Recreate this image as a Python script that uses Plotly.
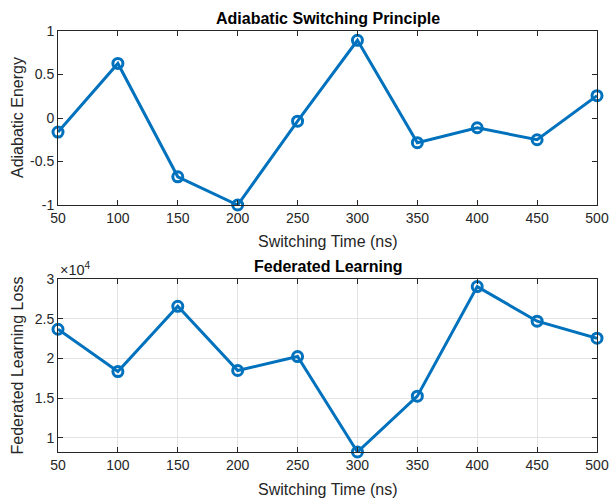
import plotly.graph_objects as go

# Switching times shared by both panels
switching_time = [50, 100, 150, 200, 250, 300, 350, 400, 450, 500]

# Panel 1: adiabatic energy
adiabatic_energy = [-0.162, 0.627, -0.676, -1.0, -0.036, 0.893, -0.284, -0.112, -0.250, 0.257]

# Panel 2: federated learning loss
fl_loss = [23670, 18340, 26560, 18470, 20230, 8200, 15240, 29040, 24680, 22540]

energy_ticks = [-1, -0.5, 0, 0.5, 1]
energy_ticktext = ["-1", "-0.5", "0", "0.5", "1"]
loss_ticks = [10000, 15000, 20000, 25000, 30000]
loss_ticktext = ["1", "1.5", "2", "2.5", "3"]
time_ticks = switching_time

W, H = 609, 503
BLUE = "#0072BD"
INK = "#262626"
FONT = "Liberation Sans, Arial, sans-serif"

# axes boxes in pixels (left, right, top, bottom)
ax1 = (58, 597, 31, 205)
ax2 = (58, 597, 279, 452)


def fx(x):
    return x / W


def fy(y):
    return 1 - y / H


def xd(box):
    return [fx(box[0]), fx(box[1])]


def yd(box):
    return [fy(box[3]), fy(box[2])]


fig = go.Figure()

line_style = dict(color=BLUE, width=3)
marker_style = dict(symbol="circle-open", size=10, color=BLUE, line=dict(width=3, color=BLUE))

fig.add_trace(go.Scatter(x=switching_time, y=adiabatic_energy, mode="lines+markers",
                         line=line_style, marker=marker_style, xaxis="x", yaxis="y",
                         cliponaxis=False, showlegend=False))
fig.add_trace(go.Scatter(x=switching_time, y=fl_loss, mode="lines+markers",
                         line=line_style, marker=marker_style, xaxis="x2", yaxis="y2",
                         cliponaxis=False, showlegend=False))

# fixed axes boxes: no automatic margin growth from tick labels
axis_common = dict(
    automargin=False,
    showline=True, linecolor=INK, linewidth=1, mirror="ticks",
    ticks="inside", ticklen=5, tickcolor=INK, tickwidth=1,
    tickfont=dict(family=FONT, size=14, color=INK),
    zeroline=False,
)

fig.update_layout(
    width=W, height=H,
    margin=dict(l=0, r=0, t=0, b=0, autoexpand=False),
    paper_bgcolor="white", plot_bgcolor="white",
    font=dict(family=FONT, color=INK),
    xaxis=dict(domain=xd(ax1), anchor="y", range=[50, 500], tickvals=time_ticks,
               showgrid=False, **axis_common),
    yaxis=dict(domain=yd(ax1), anchor="x", range=[-1, 1], tickvals=energy_ticks,
               ticktext=energy_ticktext, showgrid=False, **axis_common),
    xaxis2=dict(domain=xd(ax2), anchor="y2", range=[50, 500], tickvals=time_ticks,
                showgrid=True, gridcolor="#e3e3e3", gridwidth=1, **axis_common),
    yaxis2=dict(domain=yd(ax2), anchor="x2", range=[min(fl_loss), 30000], tickvals=loss_ticks,
                ticktext=loss_ticktext, showgrid=True, gridcolor="#e3e3e3", gridwidth=1,
                **axis_common),
)


def px_ann(text, x, y, size, bold=False, angle=0, xanchor="center", yanchor="middle"):
    fig.add_annotation(
        text=f"<b>{text}</b>" if bold else text,
        x=fx(x), y=fy(y), xref="paper", yref="paper",
        showarrow=False, textangle=angle, xanchor=xanchor, yanchor=yanchor,
        font=dict(family=FONT, size=size, color="black" if bold else INK),
    )


cx = (ax1[0] + ax1[1]) / 2
px_ann("Adiabatic Switching Principle", cx, 18, 16, bold=True)
px_ann("Switching Time (ns)", cx, 242, 16)
px_ann("Adiabatic Energy", 17, (ax1[2] + ax1[3]) / 2, 16, angle=-90)

px_ann("Federated Learning", cx, 266, 16, bold=True)
px_ann("Switching Time (ns)", cx, 489, 16)
px_ann("Federated Learning Loss", 17, (ax2[2] + ax2[3]) / 2, 16, angle=-90)
px_ann("×10<sup>4</sup>", 58, 269, 14.5, xanchor="left")

fig.write_html("out.html")
